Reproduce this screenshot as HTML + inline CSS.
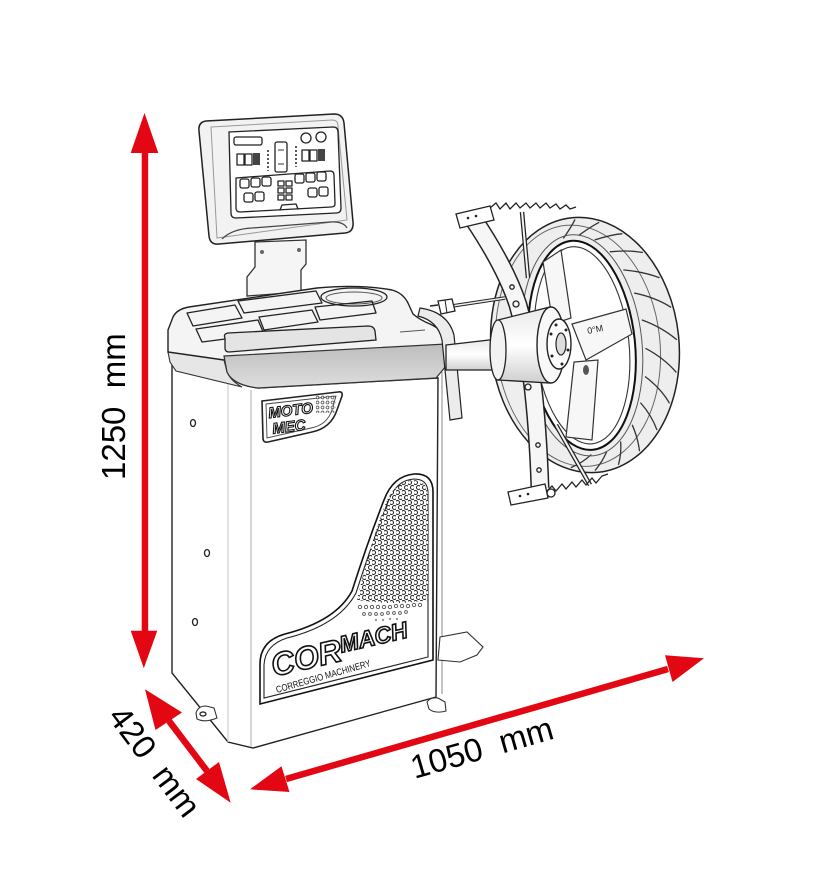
<!DOCTYPE html>
<html><head><meta charset="utf-8"><style>
html,body{margin:0;padding:0;background:#fff;}
svg{display:block}
.t{font-family:"Liberation Sans",Arial,sans-serif;font-size:33px;fill:#000;white-space:pre}
.ln{fill:none;stroke:#222;stroke-width:1.3;stroke-linejoin:round;stroke-linecap:round}
</style></head><body>
<svg width="832" height="874" viewBox="0 0 832 874" xmlns="http://www.w3.org/2000/svg">
<defs>
<pattern id="dots" width="6" height="10" patternUnits="userSpaceOnUse">
<circle cx="1.5" cy="2.5" r="2" fill="#fff" stroke="#222" stroke-width="1"/>
<circle cx="4.5" cy="7.5" r="2" fill="#fff" stroke="#222" stroke-width="1"/>
</pattern>
<pattern id="dots2" width="5" height="5" patternUnits="userSpaceOnUse">
<circle cx="2.5" cy="2.5" r="1.4" fill="#fff" stroke="#333" stroke-width="0.9"/>
</pattern>
<clipPath id="dc"><path d="M357,600 Q369,548 385,505 Q393,483 412,480 Q427,480 428,495 L428,600 Q395,606 357,600 Z"/></clipPath>
<linearGradient id="band" x1="0" y1="0" x2="0" y2="1"><stop offset="0" stop-color="#bdbdbd"/><stop offset="1" stop-color="#dedede"/></linearGradient>
<linearGradient id="shaftg" x1="0" y1="0" x2="0" y2="1"><stop offset="0" stop-color="#e8e8e8"/><stop offset="0.5" stop-color="#fff"/><stop offset="1" stop-color="#cfcfcf"/></linearGradient>
</defs>

<!-- ========== MACHINE ========== -->
<!-- post -->
<path d="M255,242 L306,240 L306,264 L301,270 L301,292 L247,296 L247,277 L255,267 Z" fill="#f5f5f5" stroke="#333" stroke-width="1.3"/>
<circle cx="262" cy="252" r="2" fill="#666"/><circle cx="299" cy="250" r="2" fill="#666"/>

<!-- cabinet body -->
<path d="M172,352 L172,673 L228,742 L253,748 L436,697 L438,378 L258,388 Q233,385 227,372 Z" fill="#fff" stroke="#222" stroke-width="1.4"/>
<line x1="228" y1="374" x2="228" y2="742" stroke="#cfcfcf" stroke-width="1.2"/>
<line x1="251" y1="390" x2="251" y2="747" stroke="#bbb" stroke-width="1.2"/>
<line x1="442" y1="372" x2="442" y2="694" stroke="#888" stroke-width="1"/>
<ellipse cx="193" cy="423" rx="2.5" ry="3.5" class="ln"/>
<ellipse cx="207" cy="553" rx="2.5" ry="3.5" class="ln"/>
<ellipse cx="195" cy="622" rx="2.5" ry="3.5" class="ln"/>
<!-- feet -->
<path d="M196,713 Q198,706 206,706 L214,708 L217,718 Q205,723 197,719 Z" fill="#fff" stroke="#333" stroke-width="1.1"/>
<ellipse cx="203" cy="714" rx="3" ry="2" class="ln"/>
<path d="M427,702 Q430,697 438,698 L445,702 L446,711 Q435,714 429,709 Z" fill="#fff" stroke="#333" stroke-width="1.1"/>
<path d="M440,637 L467,632 L483,647 L477,655 L460,662 L438,660 Z" fill="#fff" stroke="#333" stroke-width="1.1"/>

<!-- tray -->
<path d="M168,352 L224,360 L227,372 Q231,381 242,387 L176,371 L170,362 Z" fill="#e6e6e6" stroke="#333" stroke-width="1.1"/>
<path d="M168,330 L173,317 Q177,309 189,307 L317,288 Q360,284 392,290 Q403,293 408,303 L413,314 Q420,320 430,324 Q443,330 446,340 L446,346 L224,360 L168,352 Z" fill="#f4f4f4" stroke="#222" stroke-width="1.4"/>
<path d="M187,313 L235,305 L242,318 L193,326 Z" class="ln" fill="#fafafa"/>
<path d="M238,301 L316,291 L322,303 L244,313 Z" class="ln" fill="#fafafa"/>
<ellipse cx="354" cy="297" rx="33" ry="9" class="ln" fill="#f0f0f0"/>
<ellipse cx="354" cy="298" rx="28" ry="6" fill="none" stroke="#555" stroke-width="1"/>
<path d="M196,329 L258,320 L264,334 L202,342 Z" class="ln" fill="#fafafa"/>
<path d="M259,317 L312,310 L318,322 L264,330 Z" class="ln" fill="#fafafa"/>
<path d="M315,307 L372,301 L376,313 L320,320 Z" class="ln" fill="#fafafa"/>
<path d="M225,338 Q223,334 228,333 L368,326 Q374,326 375,331 L376,340 L229,352 Q225,352 225,348 Z" fill="#e4e4e4" stroke="#222" stroke-width="1.3"/>
<path d="M224,356 L446,344 L446,366 L436,378 L258,388 Q233,385 227,372 Z" fill="url(#band)" stroke="#333" stroke-width="1.2"/>
<line x1="400" y1="332" x2="425" y2="330" stroke="#555" stroke-width="1"/>

<!-- monitor -->
<path d="M206,121 L334,114 Q343,114 344,123 L353,222 Q354,232 345,233 L219,244 Q210,245 209,236 L199,131 Q198,122 206,121 Z" fill="#f2f2f2" stroke="#222" stroke-width="1.5"/>
<path d="M211,127 L332,120 Q338,120 338,126 L347,220 L217,238 Z" fill="none" stroke="#999" stroke-width="1"/>
<path d="M222,239 Q232,229 252,228 L330,222 Q343,221 347,228" fill="none" stroke="#444" stroke-width="1.2"/>
<path d="M229,132 L333,127 Q338,127 338,132 L341,208 Q341,213 336,213 L236,218 Q231,218 231,213 Z" fill="#fff" stroke="#222" stroke-width="1.3"/>
<rect x="234" y="137" width="28" height="8" rx="2" class="ln"/>
<rect x="237" y="154" width="7" height="11" class="ln"/><rect x="245" y="154" width="7" height="11" class="ln"/><rect x="253" y="153" width="7" height="12" fill="#444"/>
<rect x="275" y="142" width="12" height="30" rx="2" class="ln"/>
<line x1="278" y1="150" x2="284" y2="150" stroke="#333"/><line x1="278" y1="164" x2="284" y2="164" stroke="#333"/>
<line x1="268" y1="150" x2="268" y2="171" stroke="#222" stroke-width="1.5" stroke-dasharray="2 2"/>
<line x1="296" y1="146" x2="296" y2="167" stroke="#222" stroke-width="1.5" stroke-dasharray="2 2"/>
<circle cx="306" cy="138" r="5" class="ln"/><circle cx="321" cy="137" r="5" class="ln"/>
<rect x="302" y="150" width="7" height="11" class="ln"/><rect x="310" y="150" width="7" height="11" class="ln"/><rect x="318" y="149" width="7" height="12" fill="#444"/>
<path d="M236,178 L330,171 Q334,171 334,175 L335,204 Q335,207 331,207 L240,212 Q236,212 236,208 Z" class="ln"/>
<rect x="240" y="179" width="9" height="9" rx="2" class="ln"/><rect x="251" y="178" width="9" height="9" rx="2" class="ln"/><rect x="262" y="177" width="9" height="9" rx="2" class="ln"/>
<rect x="244" y="193" width="9" height="9" rx="2" class="ln"/><rect x="255" y="192" width="9" height="9" rx="2" class="ln"/>
<rect x="278" y="181" width="6" height="5" class="ln"/><rect x="286" y="181" width="6" height="5" class="ln"/>
<rect x="278" y="188" width="6" height="5" class="ln"/><rect x="286" y="188" width="6" height="5" class="ln"/>
<rect x="278" y="195" width="6" height="5" class="ln"/><rect x="286" y="195" width="6" height="5" class="ln"/>
<rect x="295" y="174" width="9" height="9" rx="2" class="ln"/><rect x="306" y="173" width="9" height="9" rx="2" class="ln"/><rect x="317" y="172" width="9" height="9" rx="2" class="ln"/>
<rect x="308" y="188" width="9" height="9" rx="2" class="ln"/><rect x="319" y="187" width="9" height="9" rx="2" class="ln"/>
<path d="M280,210 L282,205 L296,204 L298,209" class="ln"/>

<!-- MOTO MEC badge -->
<path d="M262,401 L338,392 Q343,391 342,396 L337,410 Q331,428 312,432 L268,442 Q263,443 263,438 Z" fill="#fff" stroke="#222" stroke-width="1.6"/>
<path d="M266,404 L336,396 L332,410 Q327,425 311,428 L267,438 Z" fill="none" stroke="#444" stroke-width="0.9"/>
<rect x="316" y="395" width="20" height="18" fill="url(#dots2)" opacity="0.8"/>
<g transform="rotate(-7 270 418)"><text x="269" y="418" font-family="Liberation Sans,Arial,sans-serif" font-size="15" font-weight="bold" font-style="italic" fill="#fff" stroke="#111" stroke-width="1.1">MOTO</text>
<text x="271" y="434" font-family="Liberation Sans,Arial,sans-serif" font-size="15" font-weight="bold" font-style="italic" fill="#fff" stroke="#111" stroke-width="1.1">MEC</text></g>

<!-- logo panel -->
<path d="M260,704 L260,664 Q260,641 285,634 Q336,621 352,591 Q368,541 384,500 Q393,476 414,474 Q433,473 433,492 L433,660 Z" fill="#fff" stroke="#111" stroke-width="1.6"/>
<path d="M264,698 L264,665 Q265,645 287,638 Q339,625 356,593 Q372,543 388,502 Q396,480 414,479 Q428,479 428,493 L428,657 Z" fill="none" stroke="#222" stroke-width="1.1"/>
<rect x="350" y="478" width="82" height="130" fill="url(#dots)" clip-path="url(#dc)"/>
<g fill="#fff" stroke="#555" stroke-width="0.9">
<circle cx="360" cy="607" r="1.7"/><circle cx="366" cy="607" r="1.7"/><circle cx="372" cy="607" r="1.7"/><circle cx="378" cy="607" r="1.7"/><circle cx="384" cy="607" r="1.7"/><circle cx="390" cy="607" r="1.7"/><circle cx="396" cy="606" r="1.7"/><circle cx="402" cy="606" r="1.7"/><circle cx="408" cy="606" r="1.7"/><circle cx="414" cy="605" r="1.7"/><circle cx="420" cy="605" r="1.7"/>
<circle cx="364" cy="614" r="1.4"/><circle cx="370" cy="614" r="1.4"/><circle cx="376" cy="614" r="1.4"/><circle cx="382" cy="614" r="1.4"/><circle cx="388" cy="613" r="1.4"/><circle cx="394" cy="613" r="1.4"/><circle cx="400" cy="613" r="1.4"/><circle cx="406" cy="612" r="1.4"/>
</g>
<g fill="#999"><circle cx="376" cy="620" r="1.2"/><circle cx="383" cy="620" r="1.2"/><circle cx="390" cy="619" r="1.2"/><circle cx="397" cy="619" r="1.2"/></g>
<g transform="rotate(-13 276 676)">
<text x="274" y="676" font-family="Liberation Sans,Arial,sans-serif" font-size="32" font-weight="bold" font-style="italic" fill="#fff" stroke="#111" stroke-width="1.6">COR<tspan font-size="23" dy="-8">MACH</tspan></text>
</g>
<text x="277" y="693" transform="rotate(-16 277 693)" font-family="Liberation Sans,Arial,sans-serif" font-size="9.5" fill="#111" textLength="98" lengthAdjust="spacingAndGlyphs">CORREGGIO MACHINERY</text>

<!-- gauge arm -->
<path d="M420,308 Q448,312 454,335 L462,418 L450,420 L442,340 Q438,321 418,316 Z" fill="#ececec" stroke="#222" stroke-width="1.2"/>

<!-- ========== WHEEL ========== -->
<g transform="rotate(-6 585 345)">
<ellipse cx="585" cy="345" rx="94" ry="128" fill="#eeeeee" stroke="#222" stroke-width="1.5"/>
<ellipse cx="578" cy="345" rx="82" ry="121" fill="none" stroke="#666" stroke-width="1"/>
<g stroke="#333" stroke-width="1.3" fill="none">
<path d="M574.6,236.7 Q584,226 588.2,219.1"/>
<path d="M590.2,235.4 Q603,228 611.9,224.5"/>
<path d="M605.5,241.6 Q622,238 633.8,238.2"/>
<path d="M619.4,254.9 Q638,255 652.3,259.1"/>
<path d="M631,274.3 Q650,278 666.2,285.9"/>
<path d="M639.4,298.5 Q660,305 674.6,316.6"/>
<path d="M644.1,325.9 Q663,335 676.9,349.4"/>
<path d="M644.8,354.6 Q662,366 673,381.8"/>
<path d="M641.4,382.6 Q656,396 663,411.8"/>
<path d="M634.1,408.1 Q644,422 647.7,437.1"/>
<path d="M623.6,429.3 Q628,443 628.1,456.3"/>
<path d="M610.4,444.7 Q610,457 605.7,467.7"/>
<path d="M595.4,453.4 Q590,463 581.8,470.9"/>
<path d="M579.8,454.6 Q570,462 558.1,465.5"/>
</g>
<ellipse cx="582" cy="345" rx="60" ry="111" fill="none" stroke="#555" stroke-width="1"/>
<ellipse cx="582" cy="345" rx="53" ry="105" fill="#fff" stroke="#111" stroke-width="2"/>
<ellipse cx="582" cy="345" rx="47" ry="99" fill="#fff" stroke="#333" stroke-width="1.1"/>
</g>
<!-- spokes -->
<path d="M572,324 L626,309 L632,334 L586,360 Z" fill="#f7f7f7" stroke="#333" stroke-width="1.2"/>
<path d="M574,362 L598,360 L592,440 L566,437 Z" fill="#f7f7f7" stroke="#333" stroke-width="1.2"/>
<path d="M553,324 L571,318 L561,250 L543,262 Z" fill="#f7f7f7" stroke="#333" stroke-width="1.2"/>
<text x="588" y="334" font-family="Liberation Sans,Arial,sans-serif" font-size="9" fill="#222" transform="rotate(-12 588 334)">0°M</text>
<ellipse cx="586" cy="370" rx="3" ry="5" fill="#555"/>

<!-- clamp bar -->
<path d="M474,220 Q506,268 518,305 Q536,370 540,488" fill="none" stroke="#222" stroke-width="19" stroke-linecap="butt"/>
<path d="M474,220 Q506,268 518,305 Q536,370 540,488" fill="none" stroke="#f6f6f6" stroke-width="16" stroke-linecap="butt"/>
<circle cx="512" cy="287" r="2.2" class="ln"/><circle cx="538" cy="445" r="2.2" class="ln"/><circle cx="539" cy="470" r="2.2" class="ln"/>
<!-- thin rods -->
<path d="M522,212 L528,278" stroke="#222" stroke-width="4.5" fill="none"/>
<path d="M522,212 L528,278" stroke="#f4f4f4" stroke-width="2" fill="none"/>
<path d="M556,425 L590,485" stroke="#222" stroke-width="4.5" fill="none"/>
<path d="M556,425 L590,485" stroke="#f4f4f4" stroke-width="2" fill="none"/>
<!-- straps -->
<path d="M490,208 L496,203 L500,209 L506,203 L510,209 L516,203 L520,208 L526,203 L530,208 L536,203 L540,208 L546,203 L550,208 L556,204 L560,209 L566,205 L570,209 L576,207" fill="none" stroke="#222" stroke-width="1.3"/>
<path d="M546,492 L552,486 L556,491 L562,484 L566,489 L572,482 L576,487 L582,480 L586,485 L592,478 L596,483 L602,476 L608,474" fill="none" stroke="#222" stroke-width="1.3"/>
<!-- jaws -->
<path d="M456,214 L490,206 L494,220 L460,228 Z" fill="#fff" stroke="#222" stroke-width="1.3"/>
<circle cx="468" cy="218" r="1.3" fill="#222"/><circle cx="476" cy="216" r="1.3" fill="#222"/>
<path d="M508,492 L545,484 L548,498 L511,505 Z" fill="#fff" stroke="#222" stroke-width="1.3"/>
<circle cx="520" cy="496" r="1.3" fill="#222"/><circle cx="528" cy="494" r="1.3" fill="#222"/>
<circle cx="551" cy="493" r="4" class="ln" fill="#fff"/>

<!-- rod above shaft -->
<path d="M452,306 L505,298" stroke="#222" stroke-width="3.5" fill="none"/>
<path d="M452,306 L505,298" stroke="#eee" stroke-width="1.5" fill="none"/>
<path d="M438,301 L452,299 L455,311 L441,314 Z" fill="#fff" stroke="#222" stroke-width="1.3"/>
<line x1="445" y1="300" x2="447" y2="313" stroke="#222"/>
<line x1="430" y1="306" x2="438" y2="305" stroke="#222" stroke-width="1.5"/>

<!-- shaft -->
<path d="M446,345 L498,339 L498,370 L446,370 Z" fill="url(#shaftg)" stroke="#222" stroke-width="1.3"/>
<!-- flange cylinder -->
<path d="M498,320 L550,307 L550,383 L498,380 Z" fill="url(#shaftg)" stroke="#222" stroke-width="1.3"/>
<ellipse cx="498" cy="350" rx="8" ry="30" fill="#f2f2f2" stroke="#222" stroke-width="1.3"/>
<ellipse cx="551" cy="345" rx="14" ry="38" fill="#f8f8f8" stroke="#222" stroke-width="1.4"/>
<ellipse cx="559" cy="344" rx="12" ry="25" fill="#fff" stroke="#222" stroke-width="1.4"/>
<ellipse cx="561" cy="344" rx="5" ry="11" fill="#ddd" stroke="#222" stroke-width="1.2"/>
<g fill="#222"><circle cx="556" cy="325" r="1.5"/><circle cx="566" cy="330" r="1.5"/><circle cx="568" cy="350" r="1.5"/><circle cx="562" cy="364" r="1.5"/><circle cx="552" cy="356" r="1.5"/><circle cx="551" cy="334" r="1.5"/></g>
<circle cx="516" cy="304" r="3" class="ln" fill="#fff"/>
<circle cx="528" cy="387" r="3" class="ln" fill="#fff"/>

<!-- ========== DIMENSIONS ========== -->
<g fill="#e30613" stroke="none">
<rect x="141.7" y="150" width="6.5" height="484"/>
<polygon points="144.5,113 130.7,153 158.3,153"/>
<polygon points="143.8,668.3 130.7,630.7 157.3,630.7"/>
<polygon points="145,689.3 182,712.5 155.5,730"/>
<polygon points="230.7,802.7 219,762 196,779"/>
<polygon points="250,789.3 281.5,766.3 289.5,792"/>
<polygon points="704,658.3 665,655.3 672.5,682"/>
</g>
<line x1="169" y1="721" x2="207" y2="771" stroke="#e30613" stroke-width="6.5"/>
<line x1="286" y1="779" x2="668" y2="669" stroke="#e30613" stroke-width="6.5"/>

<text class="t" x="125" y="480" transform="rotate(-90 125 480)">1250&#160;&#160;mm</text>
<text class="t" x="414.5" y="779" transform="rotate(-16.1 414.5 779)">1050&#160;&#160;mm</text>
<text class="t" x="107" y="717" transform="rotate(53 107 717)">420&#160;&#160;mm</text>
</svg>
</body></html>
